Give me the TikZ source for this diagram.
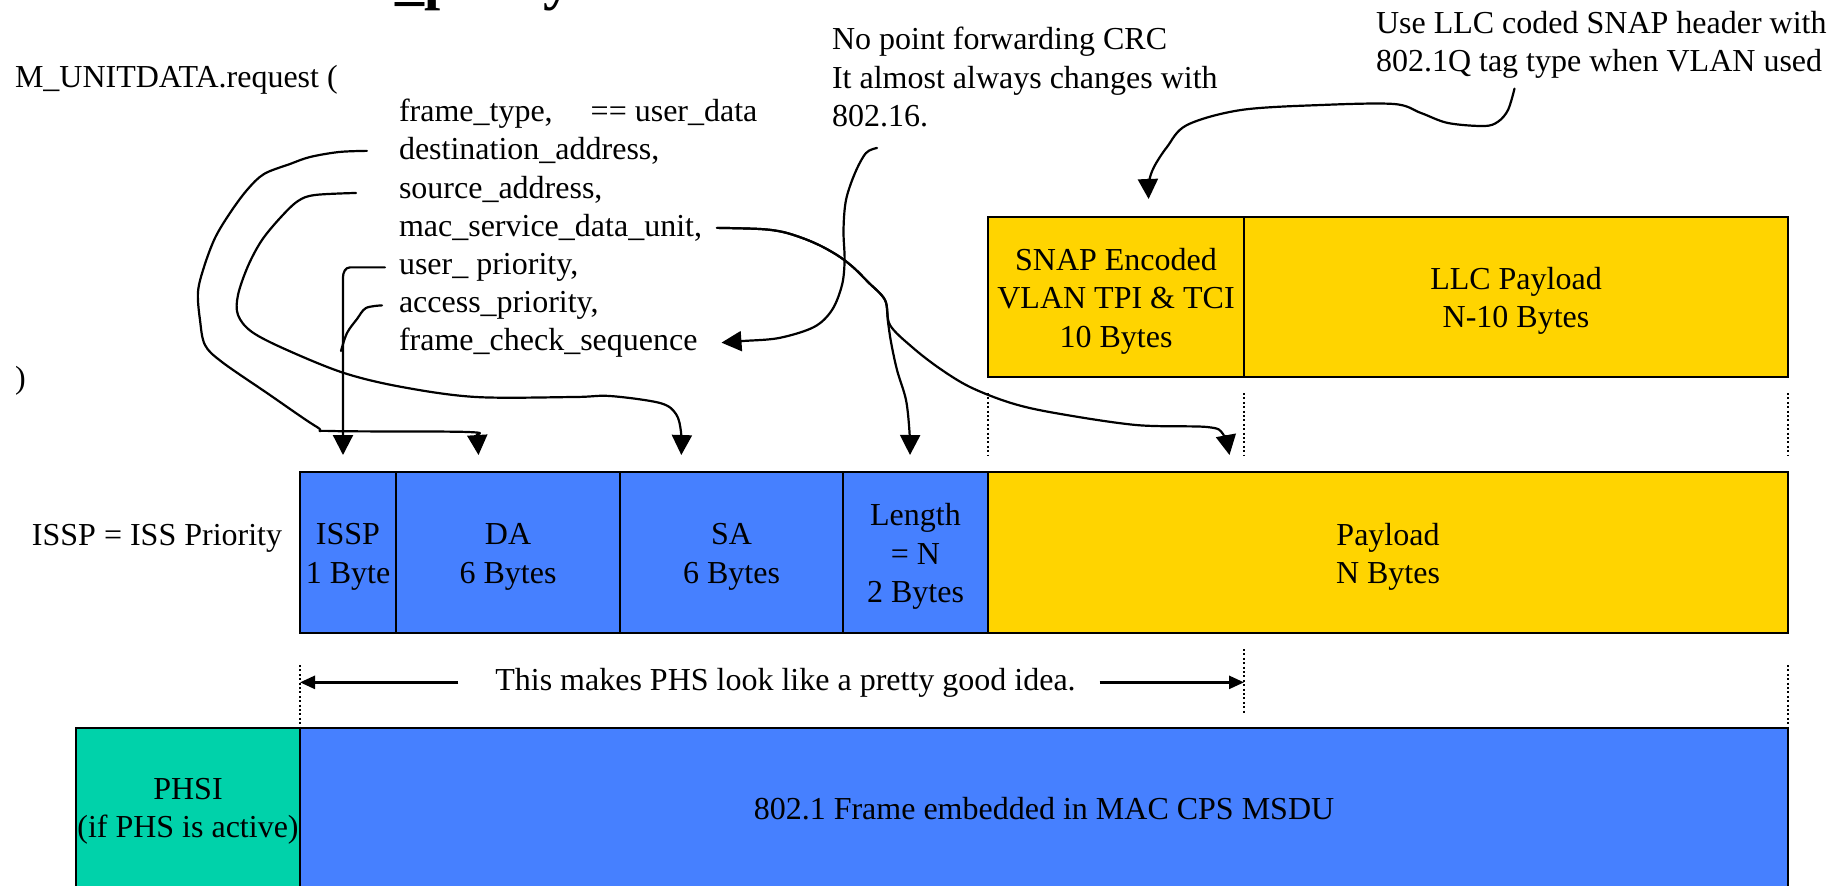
\documentclass[tikz,border=0pt]{standalone}
\usepackage{fontspec}
\setmainfont{Liberation Serif}
\usetikzlibrary{arrows.meta,calc}
\definecolor{fieldblue}{HTML}{4680FF}
\definecolor{fieldgold}{HTML}{FFD400}
\definecolor{fieldteal}{HTML}{00D2AA}
\tikzset{
  every node/.style={inner sep=0pt, outer sep=0pt, font=\fontsize{16pt}{19.25pt}\selectfont},
  field/.style={draw=black, line width=1.2pt, minimum height=80.5pt},
  lowfield/.style={draw=black, line width=1.2pt, minimum height=86pt},
  boxtext/.style={align=center},
  conn/.style={line width=1.1pt, line join=round, line cap=round},
  tipped/.style={conn, -{Triangle[length=10pt,width=10pt]}},
  guide/.style={line width=0.8pt, dash pattern=on 1pt off 1.2pt},
  dimarrow/.style={line width=1.3pt, -{Triangle[length=7.5pt,width=6.5pt]}}
}
\begin{document}
\begin{tikzpicture}[x=0.5pt,y=-0.5pt]
\useasboundingbox (0,0) rectangle (1847,885);

% heading (only its lower part falls on the page)
\node[anchor=base west, font=\fontsize{29pt}{34pt}\selectfont\bfseries] (title) at (289,-2) {user\_policy};

% primitive and its parameters
\node[anchor=base west] (req) at (15,87) {M\_UNITDATA.request (};
\node[anchor=base west] (p-ft) at (399,121) {frame\_type,\hspace{19pt}== user\_data};
\node[anchor=base west] (p-da) at (399,159.5) {destination\_address,};
\node[anchor=base west] (p-sa) at (399,198) {source\_address,};
\node[anchor=base west] (p-msdu) at (399,236.5) {mac\_service\_data\_unit,};
\node[anchor=base west] (p-up) at (399,274.5) {user\_ priority,};
\node[anchor=base west] (p-ap) at (399,312.5) {access\_priority,};
\node[anchor=base west] (p-fcs) at (399,350.5) {frame\_check\_sequence};
\node[anchor=base west] (close) at (15,388) {)};

% notes
\node[anchor=north west, align=left] (crc) at (832,27) {No point forwarding CRC\\It almost always changes with\\802.16.};
\node[anchor=north west, align=left] (vlan) at (1376,11) {Use LLC coded SNAP header with\\802.1Q tag type when VLAN used};
\node[anchor=base west] (key) at (32,545) {ISSP = ISS Priority};

% LLC encapsulation row
\node[field, fill=fieldgold, minimum width=128pt, minimum height=80pt] (snap) at (1116,297) {};
\node[field, fill=fieldgold, minimum width=272pt, minimum height=80pt] (llc) at (1516,297) {};
\node[boxtext] (snap-t) at ($(snap.center)+(0,4)$) {SNAP Encoded\\VLAN TPI \& TCI\\10 Bytes};
\node[boxtext] (llc-t) at ($(llc.center)+(0,4)$) {LLC Payload\\N-10 Bytes};

% 802.1 frame row
\node[field, fill=fieldblue, minimum width=48pt] (issp) at (348,552.5) {};
\node[field, fill=fieldblue, minimum width=112pt] (da) at (508,552.5) {};
\node[field, fill=fieldblue, minimum width=111.5pt] (sa) at (731.5,552.5) {};
\node[field, fill=fieldblue, minimum width=72.5pt] (len) at (915.5,552.5) {};
\node[field, fill=fieldgold, minimum width=400pt] (pay) at (1388,552.5) {};
\node[boxtext] (issp-t) at ($(issp.center)+(0,4.5)$) {ISSP\\1 Byte};
\node[boxtext] (da-t) at ($(da.center)+(0,4.5)$) {DA\\6 Bytes};
\node[boxtext] (sa-t) at ($(sa.center)+(0,4.5)$) {SA\\6 Bytes};
\node[boxtext] (len-t) at ($(len.center)+(0,4)$) {Length\\= N\\2 Bytes};
\node[boxtext] (pay-t) at ($(pay.center)+(0,4.5)$) {Payload\\N Bytes};

% MAC CPS row
\node[lowfield, fill=fieldteal, minimum width=112pt] (phsi) at (188,814) {};
\node[lowfield, fill=fieldblue, minimum width=744pt] (frame) at (1044,814) {};
\node[boxtext] (phsi-t) at ($(phsi.north)+(0,83.5)$) {PHSI\\(if PHS is active)};
\node[boxtext] (frame-t) at ($(frame.north)+(0,81)$) {802.1 Frame embedded in MAC CPS MSDU};

% alignment guides
\draw[guide] ($(snap.south west)+(0,16)$) -- ($(snap.south west)+(0,79)$);
\draw[guide] ($(snap.south east)+(0,16)$) -- ($(snap.south east)+(0,79)$);
\draw[guide] ($(llc.south east)+(0,16)$) -- ($(llc.south east)+(0,79)$);
\coordinate (gl) at ($(frame.north west)+(0,-63)$);
\coordinate (gm) at ($(pay.south west)+(256,16)$);
\coordinate (gr) at ($(frame.north east)+(0,-63)$);
\draw[guide] (gl) -- (frame.north west);
\draw[guide] (gm) -- ($(gm)+(0,64)$);
\draw[guide] (gr) -- (frame.north east);

\node[anchor=base] (msg) at (785.5,690) {This makes PHS look like a pretty good idea.};
\draw[dimarrow] ([xshift=-18.5pt]msg.west) -- (msg.west -| gl);
\draw[dimarrow] ([xshift=12pt]msg.east) -- (msg.east -| gm);

% parameter to field connectors
\draw[tipped] plot[smooth, tension=0.55] coordinates {([xshift=-16pt]p-da.west) (339,152) (310,157) (290,164) (264,174) (247,190) (230,213) (215,238) (204,267) (198,292) (200,320) (205,345) (222,362) (267,393) (317,427) (332,431) (468,432) (476,437) ($(da.north west)+(82.5,-17)$)};

\draw[tipped] plot[smooth, tension=0.55] coordinates {([xshift=-21.5pt,yshift=-1.8pt]p-sa.west) (315,195) (298,201) (281,217) (262,240) (248,266) (238,295) (238,315) (252,332) (287,350) (344,373) (402,387) (476,397) (574,397) (610,396) (660,403) (676,414) (681,432) ($(sa.north west)+(61.3,-17)$)};

\draw[tipped] ([xshift=-7pt]p-up.west) -- ++(-35,0) to[out=180,in=90] ++(-7,10) -- ($(issp.north west)+(43,-17)$);

\draw[conn] plot[smooth, tension=0.55] coordinates {([xshift=-8.5pt]p-ap.west) (366,308) (357,319) (347,333) ($(issp.north west)+(41,-121)$)};

\draw[tipped] plot[smooth, tension=0.55] coordinates {([xshift=7.5pt]p-msdu.east) (760,229) (783,232) (805,239) (823,247) (840,257) (854,268) (868,282) (885,300) (888,322) (891,342) (897,370) (906,400) (909.5,432) ($(len.north west)+(67,-17)$)};

\draw[tipped] plot[smooth, tension=0.55] coordinates {([xshift=7.5pt]p-msdu.east) (760,229) (783,232) (805,239) (823,247) (840,257) (854,268) (868,282) (885,300) (890,325) (912,347) (939,368) (970,387) (1011,403) (1055,413) (1136,425) (1207,427) (1223,434) ($(pay.north west)+(241.5,-17)$)};

% note connectors
\draw[tipped] plot[smooth, tension=0.55] coordinates {($(crc.south west)+(45,21)$) (866,153) (855,173) (846,200) (843.5,230) (844.6,260) (842,285) (832,310) (814,327) (779,338) (743,341) ([xshift=12pt]p-fcs.east)};

\draw[tipped] plot[smooth, tension=0.55] coordinates {($(vlan.south west)+(138.5,10)$) (1508,110) (1498,121.7) (1484,126) (1448,123) (1421,113) (1394,104) (1321,105) (1241,110) (1187,125) (1167,147) (1154,167) (1149,182) ($(snap.north west)+(160.6,-18)$)};
\end{tikzpicture}
\end{document}
